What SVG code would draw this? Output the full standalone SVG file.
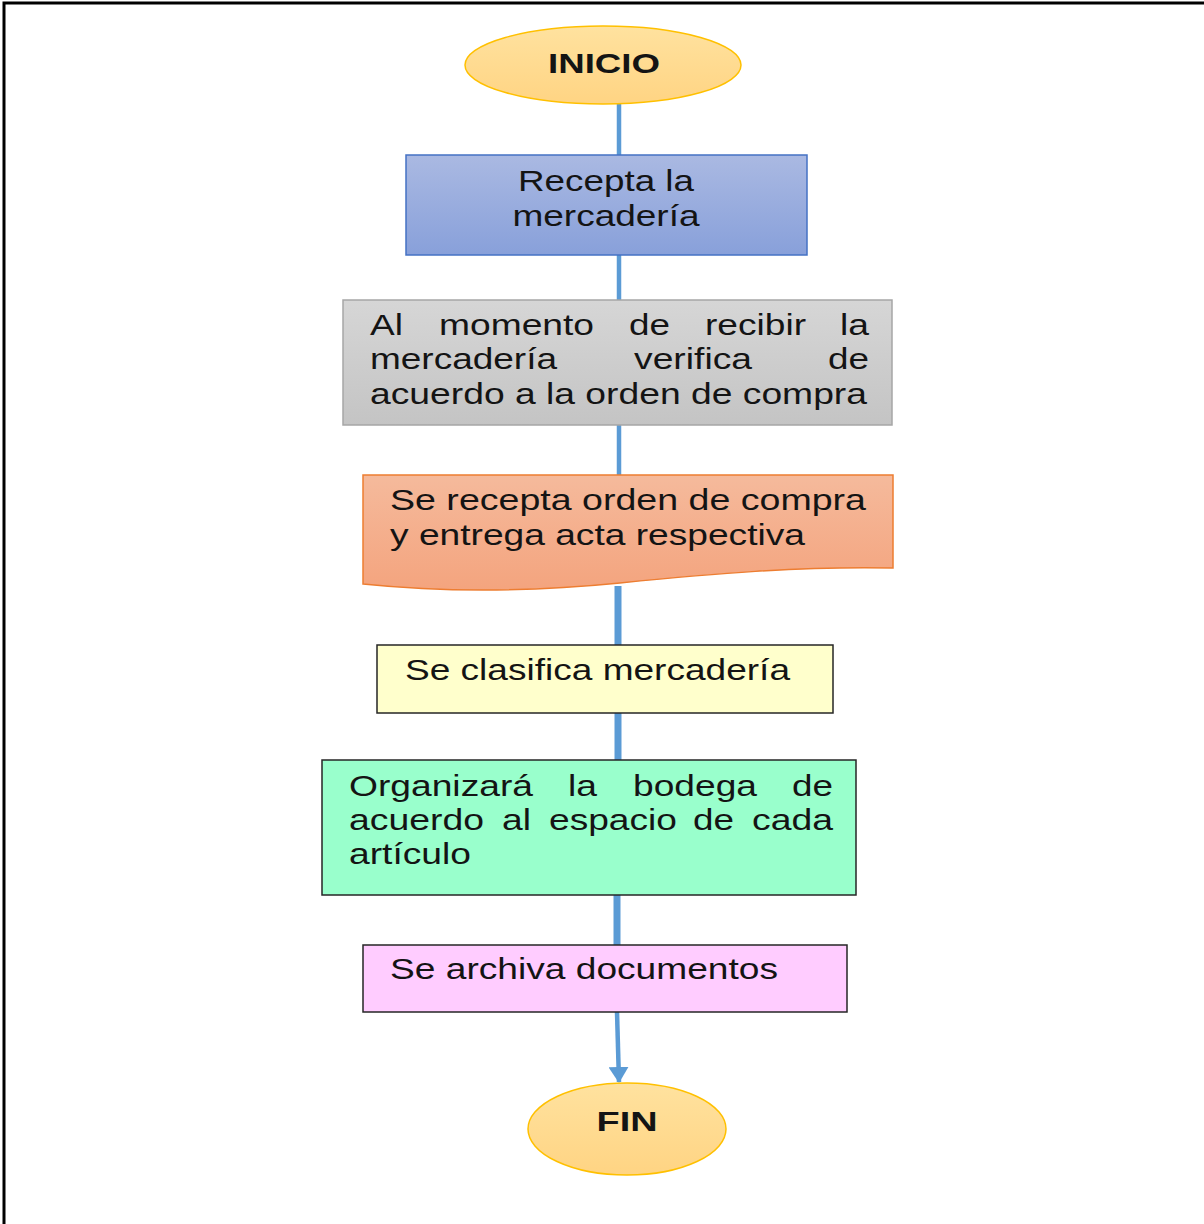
<svg xmlns="http://www.w3.org/2000/svg" width="1204" height="1224" viewBox="0 0 1204 1224">
  <defs>
    <linearGradient id="gTerm" x1="0" y1="0" x2="0" y2="1">
      <stop offset="0" stop-color="#FFE29F"/>
      <stop offset="1" stop-color="#FFD483"/>
    </linearGradient>
    <linearGradient id="gBlue" x1="0" y1="0" x2="0" y2="1">
      <stop offset="0" stop-color="#AAB9E2"/>
      <stop offset="1" stop-color="#88A0DA"/>
    </linearGradient>
    <linearGradient id="gGray" x1="0" y1="0" x2="0" y2="1">
      <stop offset="0" stop-color="#D6D6D6"/>
      <stop offset="1" stop-color="#C4C4C4"/>
    </linearGradient>
    <linearGradient id="gOrange" x1="0" y1="0" x2="0" y2="1">
      <stop offset="0" stop-color="#F5BA9C"/>
      <stop offset="1" stop-color="#F4A47E"/>
    </linearGradient>
    <marker id="arrow" viewBox="0 0 16 20" refX="15" refY="10" markerWidth="16" markerHeight="20" markerUnits="userSpaceOnUse" orient="auto">
      <path d="M0,0 L16,10 L0,20 Z" fill="#5B9BD5"/>
    </marker>
    <style>
      text { font-family: "Liberation Sans", Arial, sans-serif; fill: #141414; font-size: 29px; }
      .b { font-weight: bold; font-size: 28px; }
      .thin { stroke: #5B9BD5; stroke-width: 4.5; fill: none; }
      .thick { stroke: #5B9BD5; stroke-width: 7; fill: none; }
      .term { fill: url(#gTerm); stroke: #FFC000; stroke-width: 1.5; }
      .box { stroke: #262626; stroke-width: 1.5; }
    </style>
  </defs>

  <rect width="1204" height="1224" fill="#FFFFFF"/>
  <!-- page frame -->
  <path d="M4,1224 V3 H1204" fill="none" stroke="#000" stroke-width="3"/>

  <g id="connectors">
    <line class="thin" x1="619" y1="104" x2="619" y2="155"/>
    <line class="thin" x1="619" y1="255" x2="619" y2="300"/>
    <line class="thin" x1="619" y1="425" x2="619" y2="475"/>
    <line class="thick" x1="618" y1="586" x2="618" y2="645"/>
    <line class="thick" x1="618" y1="713" x2="618" y2="760"/>
    <line class="thick" x1="617" y1="895" x2="617" y2="945"/>
    <line class="thin" x1="617" y1="1012" x2="619" y2="1082" marker-end="url(#arrow)"/>
  </g>

  <g id="inicio">
    <ellipse class="term" cx="603" cy="65" rx="138" ry="39"/>
    <text class="b" x="604" y="73" text-anchor="middle" textLength="112" lengthAdjust="spacingAndGlyphs">INICIO</text>
  </g>

  <g id="recepta">
    <rect x="406" y="155" width="401" height="100" fill="url(#gBlue)" stroke="#4472C4" stroke-width="1.5"/>
    <text x="606" y="191" text-anchor="middle" textLength="176" lengthAdjust="spacingAndGlyphs">Recepta la</text>
    <text x="606" y="226" text-anchor="middle" textLength="187" lengthAdjust="spacingAndGlyphs">mercadería</text>
  </g>

  <g id="verifica">
    <rect x="343" y="300" width="549" height="125" fill="url(#gGray)" stroke="#A6A6A6" stroke-width="1.5"/>
    <text x="370" y="335" textLength="33" lengthAdjust="spacingAndGlyphs">Al</text>
    <text x="439" y="335" textLength="155" lengthAdjust="spacingAndGlyphs">momento</text>
    <text x="629" y="335" textLength="41" lengthAdjust="spacingAndGlyphs">de</text>
    <text x="705" y="335" textLength="101" lengthAdjust="spacingAndGlyphs">recibir</text>
    <text x="840" y="335" textLength="29" lengthAdjust="spacingAndGlyphs">la</text>
    <text x="370" y="369" textLength="187" lengthAdjust="spacingAndGlyphs">mercadería</text>
    <text x="634" y="369" textLength="118" lengthAdjust="spacingAndGlyphs">verifica</text>
    <text x="828" y="369" textLength="41" lengthAdjust="spacingAndGlyphs">de</text>
    <text x="370" y="404" textLength="497" lengthAdjust="spacingAndGlyphs">acuerdo a la orden de compra</text>
  </g>

  <g id="orden">
    <path d="M363,475 H893 V568 C800,566 710,574 620,583 C540,591 450,593 363,584 Z" fill="url(#gOrange)" stroke="#ED7D31" stroke-width="1.5"/>
    <text x="390" y="510" textLength="476" lengthAdjust="spacingAndGlyphs">Se recepta orden de compra</text>
    <text x="390" y="545" textLength="415" lengthAdjust="spacingAndGlyphs">y entrega acta respectiva</text>
  </g>

  <g id="clasifica">
    <rect class="box" x="377" y="645" width="456" height="68" fill="#FFFFCC"/>
    <text x="405" y="680" textLength="385" lengthAdjust="spacingAndGlyphs">Se clasifica mercadería</text>
  </g>

  <g id="organiza">
    <rect class="box" x="322" y="760" width="534" height="135" fill="#99FFCC"/>
    <text x="349" y="796" textLength="184" lengthAdjust="spacingAndGlyphs">Organizará</text>
    <text x="568" y="796" textLength="29" lengthAdjust="spacingAndGlyphs">la</text>
    <text x="633" y="796" textLength="124" lengthAdjust="spacingAndGlyphs">bodega</text>
    <text x="792" y="796" textLength="41" lengthAdjust="spacingAndGlyphs">de</text>
    <text x="349" y="830" textLength="135" lengthAdjust="spacingAndGlyphs">acuerdo</text>
    <text x="502" y="830" textLength="29" lengthAdjust="spacingAndGlyphs">al</text>
    <text x="549" y="830" textLength="128" lengthAdjust="spacingAndGlyphs">espacio</text>
    <text x="693" y="830" textLength="41" lengthAdjust="spacingAndGlyphs">de</text>
    <text x="752" y="830" textLength="81" lengthAdjust="spacingAndGlyphs">cada</text>
    <text x="349" y="864" textLength="122" lengthAdjust="spacingAndGlyphs">artículo</text>
  </g>

  <g id="archiva">
    <rect class="box" x="363" y="945" width="484" height="67" fill="#FFCCFF"/>
    <text x="390" y="979" textLength="388" lengthAdjust="spacingAndGlyphs">Se archiva documentos</text>
  </g>

  <g id="fin">
    <ellipse class="term" cx="627" cy="1129" rx="99" ry="46"/>
    <text class="b" x="627" y="1131" text-anchor="middle" textLength="61" lengthAdjust="spacingAndGlyphs">FIN</text>
  </g>
</svg>
